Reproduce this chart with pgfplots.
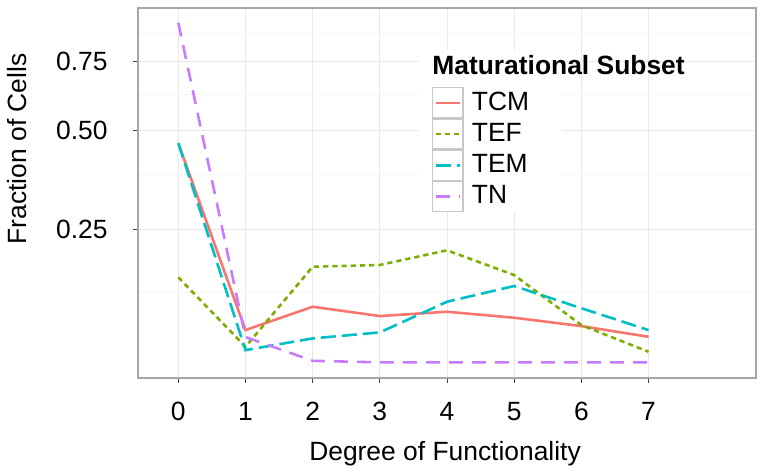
\documentclass[border=0pt]{standalone}
\usepackage{pgfplots}
\pgfplotsset{compat=1.18}
\usepackage{fontspec}
\setmainfont{Liberation Sans}
\definecolor{cTCM}{HTML}{F8766D}
\definecolor{cTEF}{HTML}{7CAE00}
\definecolor{cTEM}{HTML}{00BFC4}
\definecolor{cTN}{HTML}{C77CFF}
\begin{document}
\fontsize{13.2pt}{15.8pt}\selectfont
\begin{tikzpicture}
\begin{axis}[
  scale only axis, width=309pt, height=185pt,
  xmin=-0.6, xmax=8.6, ymin=0.0559, ymax=0.995,
  y coord trafo/.code={\pgfmathparse{(#1)^(1/3)}},
  y coord inv trafo/.code={\pgfmathparse{(#1)^3}},
  xtick={0,1,2,3,4,5,6,7}, xticklabels={0,1,2,3,4,5,6,7},
  ytick={0.25,0.5,0.75}, yticklabels={0.25,0.50,0.75},
  minor ytick={0.142,0.375,0.625,0.875},
  grid=both,
  major grid style={black!9, line width=0.5pt},
  minor grid style={black!4, line width=0.5pt},
  axis line style={black!35, line width=0.6pt},
  tick align=outside, tick pos=left,
  major tick length=2.5pt, minor tick length=0pt,
  tick style={black!75, line width=0.5pt},
  yticklabel style={inner sep=0pt, anchor=east, xshift=-12.5pt, font=\fontsize{13.2pt}{15.8pt}\selectfont},
  xticklabel style={inner sep=0pt, anchor=north, yshift=-9.25pt, font=\fontsize{13.2pt}{15.8pt}\selectfont},
  xlabel={Degree of Functionality},
  ylabel={Fraction of Cells},
  xlabel style={at={(axis description cs:0.4968,-0.2243)}, anchor=base, inner sep=0pt, font=\fontsize{13.2pt}{15.8pt}\selectfont},
  ylabel style={at={(axis description cs:-0.1812,0.619)}, anchor=base, inner sep=0pt, rotate=0, font=\fontsize{13.2pt}{15.8pt}\selectfont},
  clip=false,
  legend cell align=left,
  legend style={at={(0.4753,0.7857)}, anchor=north west, draw=none, fill=none,
    inner sep=0pt, outer sep=0pt, row sep=0pt, column sep=4.2pt,
    font=\fontsize{13.2pt}{15.8pt}\selectfont,
    nodes={inner sep=0pt, minimum height=15pt}},
  legend image code/.code={
    \draw[black!22, line width=0.6pt, solid, fill=white] (0pt,-7.5pt) rectangle (15.3pt,7.5pt);
    \draw[#1] (1.6pt,0pt) -- (13.7pt,0pt);
  },
]
\fill[white] (rel axis cs:0.4531,0.4486) rectangle (rel axis cs:0.6861,0.8865);
\addplot[cTCM, line width=1.3pt, solid] coordinates {
(0,0.4623) (1,0.09875) (2,0.12577) (3,0.11446) (4,0.1196) (5,0.11247) (6,0.10308) (7,0.09177)};
\addlegendentry{TCM}
\addplot[cTEF, line width=1.3pt, dash pattern=on 2.6pt off 2pt] coordinates {
(0,0.16638) (1,0.08197) (2,0.18292) (3,0.18567) (4,0.21063) (5,0.16988) (6,0.10418) (7,0.07734)};
\addlegendentry{TEF}
\addplot[cTEM, line width=1.3pt, dash pattern=on 7.5pt off 3pt] coordinates {
(0,0.4623) (1,0.07889) (2,0.09014) (3,0.09631) (4,0.13214) (5,0.15357) (6,0.1239) (7,0.09875)};
\addlegendentry{TEM}
\addplot[cTN, line width=1.3pt, dash pattern=on 7pt off 4.5pt] coordinates {
(0,0.9229) (1,0.09146) (2,0.06946) (3,0.06812) (4,0.06812) (5,0.06812) (6,0.06812) (7,0.06812)};
\addlegendentry{TN}
\node[anchor=base west, inner sep=0pt, font=\fontsize{13.2pt}{15.8pt}\selectfont\bfseries] at (rel axis cs:0.4757,0.8189) {Maturational Subset};
\path (rel axis cs:-0.2233,-0.25946) rectangle (rel axis cs:1.01294,1.02162);
\end{axis}
\end{tikzpicture}
\end{document}
